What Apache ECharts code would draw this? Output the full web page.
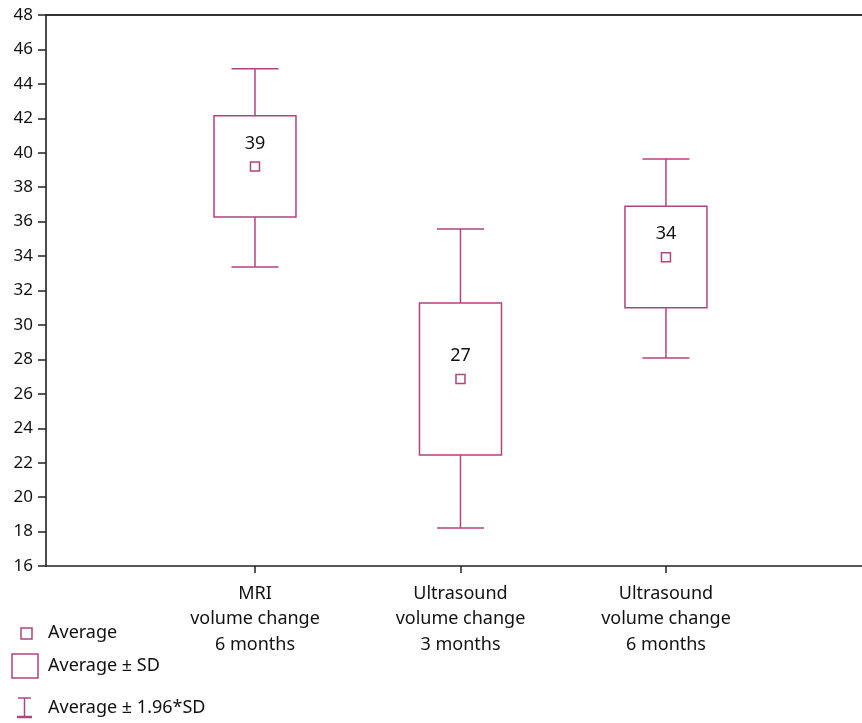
<!DOCTYPE html>
<html><head><meta charset="utf-8">
<script src="https://cdn.jsdelivr.net/npm/echarts@6/dist/echarts.min.js"></script>
<style>html,body{margin:0;padding:0;background:#fff}#c{width:862px;height:723px}</style>
</head><body><div id="c"></div>
<script>
const categories = ['MRI\nvolume change\n6 months', 'Ultrasound\nvolume change\n3 months', 'Ultrasound\nvolume change\n6 months'];
const averages = [39.2, 26.86, 33.93];
const sdLow = [36.27, 22.45, 31.0];
const sdHigh = [42.15, 31.28, 36.89];
const ciLow = [33.37, 18.21, 28.08];
const ciHigh = [44.88, 35.57, 39.64];
const yTicks = [16, 48, 2];

const COLOR = '#b0447f';
const FONT = 'Noto Sans';
const chart = echarts.init(document.getElementById('c'));
const data = categories.map((c, i) => [i + 1, averages[i], sdLow[i], sdHigh[i], ciLow[i], ciHigh[i]]);

function renderItem(params, api) {
  const x = api.value(0);
  const pMean = api.coord([x, api.value(1)]);
  const pSdL = api.coord([x, api.value(2)]);
  const pSdH = api.coord([x, api.value(3)]);
  const pCiL = api.coord([x, api.value(4)]);
  const pCiH = api.coord([x, api.value(5)]);
  const cx = pMean[0];
  const bw = 82, cw = 47, ms = 9;
  const ls = {stroke: COLOR, lineWidth: 1.5, fill: null};
  return {
    type: 'group',
    children: [
      {type: 'rect', shape: {x: cx - bw / 2, y: pSdH[1], width: bw, height: pSdL[1] - pSdH[1]}, style: ls},
      {type: 'line', shape: {x1: cx, y1: pSdH[1], x2: cx, y2: pCiH[1]}, style: ls},
      {type: 'line', shape: {x1: cx, y1: pSdL[1], x2: cx, y2: pCiL[1]}, style: ls},
      {type: 'line', shape: {x1: cx - cw / 2, y1: pCiH[1], x2: cx + cw / 2, y2: pCiH[1]}, style: ls},
      {type: 'line', shape: {x1: cx - cw / 2, y1: pCiL[1], x2: cx + cw / 2, y2: pCiL[1]}, style: ls},
      {type: 'rect', shape: {x: cx - ms / 2, y: pMean[1] - ms / 2, width: ms, height: ms}, style: ls},
      {type: 'text', x: cx, y: pMean[1] - 23, style: {text: String(Math.round(api.value(1))), fill: '#111', font: '18px "' + FONT + '"', align: 'center', verticalAlign: 'middle'}}
    ]
  };
}

const legendY = [633, 666, 708];
const LF = '18px "' + FONT + '"';
chart.setOption({
  animation: false,
  grid: {left: 46, right: 0, top: 15, bottom: 157},
  xAxis: [{
    type: 'value', min: -0.017, max: 3.954, position: 'bottom',
    splitLine: {show: false},
    axisLine: {show: true, onZero: false, lineStyle: {color: '#222', width: 1.5}},
    axisTick: {show: true, length: 7, customValues: [1, 2, 3], lineStyle: {color: '#222', width: 1.5}},
    axisLabel: {show: true, customValues: [1, 2, 3], margin: 15, color: '#111', fontSize: 18, fontFamily: FONT, lineHeight: 25.5,
      formatter: v => categories[Math.round(v) - 1] || ''}
  }, {
    type: 'value', min: -0.017, max: 3.954, position: 'top',
    splitLine: {show: false},
    axisLine: {show: true, onZero: false, lineStyle: {color: '#333', width: 2}},
    axisTick: {show: false}, axisLabel: {show: false}
  }],
  yAxis: {
    type: 'value', min: yTicks[0], max: yTicks[1], interval: yTicks[2],
    splitLine: {show: false},
    axisLine: {show: true, onZero: false, lineStyle: {color: '#111', width: 1.5}},
    axisTick: {show: true, length: 8, lineStyle: {color: '#222', width: 1.5}},
    axisLabel: {margin: 13, color: '#111', fontSize: 17, fontFamily: FONT}
  },
  series: [{type: 'custom', renderItem: renderItem, data: data, clip: false}],
  graphic: [
    {type: 'rect', shape: {x: 21, y: legendY[0] - 5, width: 11, height: 11}, style: {stroke: COLOR, lineWidth: 1.5, fill: null}},
    {type: 'text', x: 48, y: legendY[0], style: {text: 'Average', fill: '#111', font: LF, verticalAlign: 'middle'}},
    {type: 'rect', shape: {x: 12, y: legendY[1] - 12, width: 26, height: 24}, style: {stroke: COLOR, lineWidth: 1.5, fill: null}},
    {type: 'text', x: 48, y: legendY[1], style: {text: 'Average ± SD', fill: '#111', font: LF, verticalAlign: 'middle'}},
    {type: 'line', shape: {x1: 18, y1: legendY[2] - 10, x2: 31, y2: legendY[2] - 10}, style: {stroke: COLOR, lineWidth: 1.5}},
    {type: 'line', shape: {x1: 24.5, y1: legendY[2] - 10, x2: 24.5, y2: legendY[2] + 9}, style: {stroke: COLOR, lineWidth: 1.5}},
    {type: 'line', shape: {x1: 17, y1: legendY[2] + 9, x2: 32, y2: legendY[2] + 9}, style: {stroke: COLOR, lineWidth: 2.5}},
    {type: 'text', x: 48, y: legendY[2], style: {text: 'Average ± 1.96*SD', fill: '#111', font: LF, verticalAlign: 'middle'}}
  ]
});
</script></body></html>
